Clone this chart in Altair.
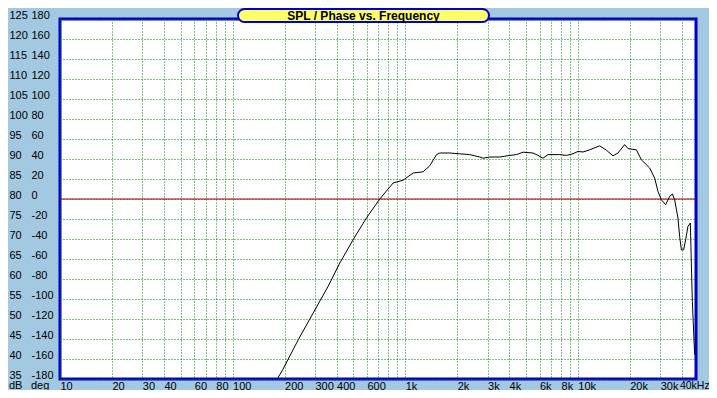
import altair as alt
import pandas as pd

# ---- data ----
freq_hz = [183, 195, 240, 293, 358, 418, 499, 597, 713, 851, 972, 1111, 1269, 1388, 1518,
           1586, 1812, 2071, 2366, 2704, 2826, 3089, 3529, 4033, 4411, 4817, 5504, 5883,
           6288, 6721, 7859, 8592, 9380, 10027, 10718, 11720, 13395, 14644, 15994, 17093,
           18692, 19533, 21846, 23352, 26084, 27876, 29137, 30491, 32283, 34054, 35309,
           36405, 38042, 38904, 39806, 41044, 42155, 43465, 44877, 45482, 46094, 47081, 47527]
spl_db = [35.3, 37.3, 44.8, 51.5, 58.2, 64.0, 69.8, 75.3, 80.0, 84.0, 84.7, 86.5, 86.8, 88.3,
          91.1, 91.5, 91.5, 91.3, 91.1, 90.5, 90.2, 90.5, 90.5, 90.9, 91.1, 91.7, 91.5, 90.9,
          90.2, 91.1, 91.1, 90.9, 91.3, 91.9, 91.75, 92.3, 93.3, 92.2, 90.8, 91.5, 93.6, 92.6,
          92.3, 89.8, 87.75, 85.25, 81.9, 79.8, 78.6, 80.65, 81.25, 79.8, 75.25, 70.65, 67.3,
          67.3, 69.8, 73.15, 74.0, 64.0, 54.4, 45.25, 41.1]

x_grid_values = [10, 20, 30, 40, 50, 60, 70, 80, 90, 100, 200, 300, 400, 500, 600, 700, 800,
                 900, 1000, 2000, 3000, 4000, 5000, 6000, 7000, 8000, 9000, 10000, 20000,
                 30000, 40000]
x_label_values = [10, 20, 30, 40, 60, 80, 100, 200, 300, 400, 600, 1000, 2000, 3000, 4000,
                  6000, 8000, 10000, 20000, 30000]
x_last_label = {"f": [40000], "t": ["40kHz"]}
y_values = list(range(35, 130, 5))
zero_phase_db = [80]
title_text = ["SPL / Phase vs. Frequency"]
unit_labels = ["dB", "deg"]

FONT = "Liberation Sans"
GRID = "#008000"
BLUE = "#0000cc"

df = pd.DataFrame({"freq": freq_hz, "spl": spl_db})
ref_df = pd.DataFrame({"ref": zero_phase_db})

label_list = ",".join(str(v) for v in x_label_values)
x_label_expr = (
    f"indexof([{label_list}], datum.value) < 0 ? '' : "
    "(datum.value >= 1000 ? (datum.value / 1000) + 'k' : '' + datum.value)"
)

y_scale = alt.Scale(domain=[35, 125], nice=False, zero=False)
x_scale = alt.Scale(type="log", domain=[10, 48400], nice=False)

common_axis = dict(
    domain=False, ticks=False, labelFont=FONT, labelFontSize=11, labelColor="black",
    labelOverlap=False, labelFlush=False, labelBound=False, title=None,
)

rule = alt.Chart(ref_df).mark_rule(color="#a00000", strokeWidth=1).encode(
    y=alt.Y("ref:Q", scale=y_scale,
            axis=alt.Axis(values=y_values, orient="left", grid=False,
                          labelExpr="(datum.value - 80) * 4",
                          labelAlign="left", labelBaseline="alphabetic",
                          labelPadding=29, labelOffset=-1, **common_axis))
)

line = alt.Chart(df).mark_line(color="black", strokeWidth=1, clip=True).encode(
    x=alt.X("freq:Q", scale=x_scale,
            axis=alt.Axis(values=x_grid_values, labelExpr=x_label_expr, grid=True,
                          gridColor=GRID, gridDash=[1, 2], gridWidth=1, gridOpacity=1,
                          labelAlign="left", labelBaseline="alphabetic", labelPadding=10,
                          **common_axis)),
    y=alt.Y("spl:Q", scale=y_scale,
            axis=alt.Axis(values=y_values, orient="left", grid=True, gridColor=GRID,
                          gridDash=[1, 2], gridWidth=1, gridOpacity=1,
                          labelAlign="left", labelBaseline="alphabetic",
                          labelPadding=51, labelOffset=-1, **common_axis)),
)

last_lbl = alt.Chart(pd.DataFrame(x_last_label)).mark_text(
    font=FONT, fontSize=10.5, color="black", align="right", baseline="alphabetic", dx=28
).encode(x=alt.X("f:Q", scale=x_scale), y=alt.value(370), text="t:N")

title_box = alt.Chart(pd.DataFrame({"t": title_text})).mark_rect(
    cornerRadius=7, fill="#ffff66", stroke=BLUE, strokeWidth=2
).encode(x=alt.value(178), x2=alt.value(429), y=alt.value(-10), y2=alt.value(3))

title_lbl = alt.Chart(pd.DataFrame({"t": title_text})).mark_text(
    font=FONT, fontSize=12, fontWeight="bold", color="black", baseline="middle", align="center"
).encode(x=alt.value(303.5), y=alt.value(-3.5), text="t:N")

units_df = pd.DataFrame({"u": unit_labels, "px": [-51, -29]})
units = alt.Chart(units_df).mark_text(
    font=FONT, fontSize=11, color="black", align="left", baseline="alphabetic"
).encode(x=alt.X("px:Q", scale=None), y=alt.value(370), text="u:N")

chart = alt.layer(rule, line, last_lbl, title_box, title_lbl, units).resolve_scale(
    y="independent"
).properties(
    width=636, height=360,
    autosize=alt.AutoSizeParams(type="none"),
    padding={"left": 52, "top": 11, "right": 13, "bottom": 11},
    background="#a2c8e2",
).configure_view(fill="white", stroke=BLUE, strokeWidth=3)

chart.save("out.html", embed_options={"renderer": "svg", "actions": False})
